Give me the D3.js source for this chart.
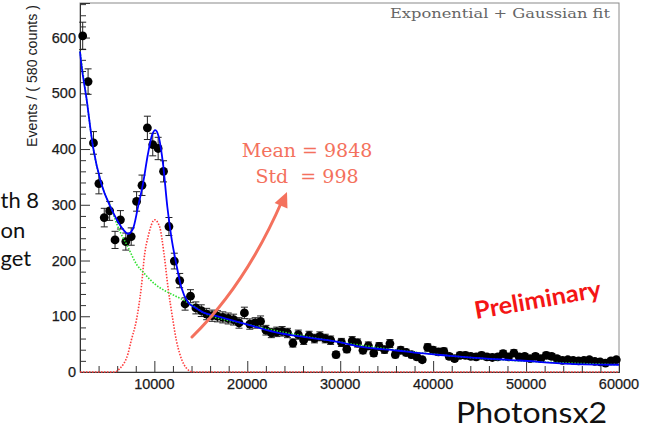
<!DOCTYPE html>
<html>
<head>
<meta charset="utf-8">
<script src="https://cdn.jsdelivr.net/npm/d3@7"></script>
<style>
  html, body { margin: 0; padding: 0; background: #fff; }
  svg { display: block; }
</style>
</head>
<body>
<svg id="chart" width="647" height="430"></svg>
<script>
// ---------- data ----------
const binLow = 2000;          // histogram starts here
const binWidth = 580;         // "580 counts" per bin
const counts = [603,521,411,338,277,289,237,273,234,243,
                306,335,438,408,401,360,261,199,164,122,
                136,115,110,104,101,100,98,96,94,88,
                106,86,88,91,75,70,72,73,70,52,
                67,57,65,60,64,60,57,31,53,41,
                56,52,39,47,34,46,40,51,31,39,
                35,31,27,22,44,39,36,37,28,24,
                30,30,28,27,30,27,26,27,33,27,
                34,27,28,24,28,24,30,28,24,21,
                22,21,20,21,22,19,18,16,20,22];

// total fit (blue)
const fitTotal = [[2000,575],[2140,553],[2680,493],[3400,404],[4290,338],[5370,293],[6450,260],
  [7165,248],[7700,257],[8240,296],[8780,338],[9320,392],[9750,425],[10100,434],[10470,422],
  [10930,374],[11400,296],[11830,242],[12360,194],[12900,152],[13620,125],[14340,116],[15240,107],
  [16527,101],[19755,86.5],[22984,71.5],[26212,62.5],[29440,55],[32485,44.5],[36080,38.6],
  [38587,33.8],[41460,29.6],[44505,25.5],[49347,20.6],[54727,14.7],[60000,13]];
// exponential background (green)
const fitBkg = [[2000,575],[2680,493],[3400,404],[4290,338],[5370,293],[6089,260],[7165,224],
  [8058,194],[8962,176],[10038,158],[11114,146],[12190,137],[13266,128],[14160,119],[15240,107],
  [19755,86.5],[29440,55],[41460,29.6],[60000,13]];
// gaussian signal (red)
const fitSig = [[2000,0],[5734,0],[6272,6],[7165,33],[7520,57],[8058,92],[8596,152],[8962,212],
  [9317,242],[10038,273],[10576,260],[11039,212],[11470,152],[12008,92],[12363,57],[12729,33],
  [13622,4],[14160,0],[60000,0]];

const xMajorTicks = [10000,20000,30000,40000,50000,60000];
const xMinorTicks = [4000,6000,8000,12000,14000,16000,18000,22000,24000,26000,28000,
  32000,34000,36000,38000,42000,44000,46000,48000,52000,54000,56000,58000];
const yMajorTicks = [0,100,200,300,400,500,600];
const yMinorTicks = [20,40,60,80,120,140,160,180,220,240,260,280,320,340,360,380,
  420,440,460,480,520,540,560,580,620,640,660];

const yTitle = "Events / ( 580 counts )";
const fitTitle = "Exponential + Gaussian fit";
const statLines = ["Mean = 9848", "Std  = 998"];
const stamp = "Preliminary";
const xTitle = "Photonsx2";
const sideText = ["th 8", "on", "get"];

// ---------- drawing ----------
const svg = d3.select("#chart");
const L = 80, R = 619, T = 3, B = 372;
const x = d3.scaleLinear().domain([2000, 60000]).range([L, R]);
const y = d3.scaleLinear().domain([0, 662]).range([B, T]);

// frame
svg.append("rect").attr("x", L).attr("y", T).attr("width", R - L).attr("height", B - T)
  .attr("fill", "#fff").attr("stroke", "#8a8a8a").attr("stroke-width", 1);

// axes with inward ticks
const xAxisMajor = d3.axisTop(x).tickValues(xMajorTicks).tickSize(11).tickFormat("");
const xAxisMinor = d3.axisTop(x).tickValues(xMinorTicks).tickSize(6).tickFormat("");
const yAxisMajor = d3.axisRight(y).tickValues(yMajorTicks).tickSize(10).tickFormat("");
const yAxisMinor = d3.axisRight(y).tickValues(yMinorTicks).tickSize(6).tickFormat("");
[xAxisMajor, xAxisMinor].forEach(a => {
  const g = svg.append("g").attr("transform", `translate(0,${B})`).call(a);
  g.select(".domain").attr("stroke", "#333");
  g.selectAll(".tick line").attr("stroke", "#333");
});
[yAxisMajor, yAxisMinor].forEach(a => {
  const g = svg.append("g").attr("transform", `translate(${L},0)`).call(a);
  g.select(".domain").attr("stroke", "#333");
  g.selectAll(".tick line").attr("stroke", "#333");
});

// tick labels
svg.append("g").selectAll("text").data(xMajorTicks).join("text")
  .attr("x", d => x(d)).attr("y", B + 17).attr("text-anchor", "middle")
  .attr("font-family", "Liberation Sans, Arial, sans-serif").attr("font-size", 14.5)
  .attr("fill", "#1a1a1a").attr("stroke", "#1a1a1a").attr("stroke-width", 0.25).text(d => d);
svg.append("g").selectAll("text").data(yMajorTicks).join("text")
  .attr("x", L - 4).attr("y", d => y(d) + 5).attr("text-anchor", "end")
  .attr("font-family", "Liberation Sans, Arial, sans-serif").attr("font-size", 14.5)
  .attr("fill", "#1a1a1a").attr("stroke", "#1a1a1a").attr("stroke-width", 0.25).text(d => d);

// y title
svg.append("text").attr("transform", `translate(37,5) rotate(-90)`)
  .attr("text-anchor", "end").attr("font-family", "Liberation Sans, Arial, sans-serif")
  .attr("font-size", 14).attr("fill", "#222")
  .attr("textLength", 142).attr("lengthAdjust", "spacingAndGlyphs").text(yTitle);

// data points
const pts = counts.map((c, i) => ({ xv: binLow + binWidth * (i + 0.5), c, e: Math.sqrt(c) }));
const gp = svg.append("g");
gp.selectAll("line.err").data(pts).join("line").attr("class", "err")
  .attr("x1", d => x(d.xv)).attr("x2", d => x(d.xv))
  .attr("y1", d => y(d.c + d.e)).attr("y2", d => y(Math.max(0, d.c - d.e)))
  .attr("stroke", "#222").attr("stroke-width", 1);
gp.selectAll("line.capt").data(pts).join("line").attr("class", "capt")
  .attr("x1", d => x(d.xv) - 3.5).attr("x2", d => x(d.xv) + 3.5)
  .attr("y1", d => y(d.c + d.e)).attr("y2", d => y(d.c + d.e))
  .attr("stroke", "#222").attr("stroke-width", 1);
gp.selectAll("line.capb").data(pts).join("line").attr("class", "capb")
  .attr("x1", d => x(d.xv) - 3.5).attr("x2", d => x(d.xv) + 3.5)
  .attr("y1", d => y(Math.max(0, d.c - d.e))).attr("y2", d => y(Math.max(0, d.c - d.e)))
  .attr("stroke", "#222").attr("stroke-width", 1);
gp.selectAll("circle").data(pts).join("circle")
  .attr("cx", d => x(d.xv)).attr("cy", d => y(d.c)).attr("r", 4.4).attr("fill", "#000");

// fit curves
const line = d3.line().x(d => x(d[0])).y(d => y(d[1])).curve(d3.curveMonotoneX);
svg.append("path").datum(fitSig).attr("d", line).attr("fill", "none")
  .attr("stroke", "#ff3b3b").attr("stroke-width", 1.6).attr("stroke-dasharray", "1.5,1.5");
svg.append("path").datum(fitBkg).attr("d", line).attr("fill", "none")
  .attr("stroke", "#2ee02e").attr("stroke-width", 1.6).attr("stroke-dasharray", "1.5,1.5");
svg.append("path").datum(fitTotal).attr("d", line).attr("fill", "none")
  .attr("stroke", "#0000ff").attr("stroke-width", 1.8);

// fit title
svg.append("text").attr("x", 610).attr("y", 18).attr("text-anchor", "end")
  .attr("font-family", "DejaVu Serif, serif").attr("font-size", 13.5)
  .attr("fill", "#666").attr("textLength", 220).attr("lengthAdjust", "spacingAndGlyphs")
  .text(fitTitle);

// stats text
const salmon = "#f4715d";
svg.append("g").selectAll("text").data(statLines).join("text")
  .attr("x", 307).attr("y", (d, i) => 157 + i * 26).attr("text-anchor", "middle")
  .attr("font-family", "DejaVu Serif, serif").attr("font-size", 19)
  .attr("fill", salmon).attr("xml:space", "preserve").style("white-space", "pre").text(d => d);

// arrow
const p0 = [192, 337], p1 = [246, 284], p2 = [282, 201];
svg.append("path").attr("d", `M${p0}Q${p1} ${p2}`).attr("fill", "none")
  .attr("stroke", salmon).attr("stroke-width", 3).attr("stroke-linecap", "round");
{
  const tip = [287, 192];
  const dx = p2[0] - p1[0], dy = p2[1] - p1[1];
  const len = Math.hypot(dx, dy), ux = dx / len, uy = dy / len;
  const hl = 15, hw = 7;
  const bx = tip[0] - ux * hl, by = tip[1] - uy * hl;
  svg.append("path")
    .attr("d", `M${tip}L${bx - uy * hw},${by + ux * hw}L${bx + uy * hw},${by - ux * hw}Z`)
    .attr("fill", salmon);
}

// Preliminary stamp
svg.append("text").attr("transform", "translate(539,308) rotate(-10)")
  .attr("text-anchor", "middle").attr("font-family", "Lato, sans-serif")
  .attr("font-weight", "bold").attr("font-size", 24).attr("fill", "#f41515")
  .attr("textLength", 128).attr("lengthAdjust", "spacingAndGlyphs").text(stamp);

// slide texts (fragments at the left edge)
svg.append("text").attr("x", 607).attr("y", 423).attr("text-anchor", "end")
  .attr("font-family", "Lato, sans-serif").attr("font-size", 29).attr("fill", "#111")
  .attr("textLength", 151).attr("lengthAdjust", "spacingAndGlyphs").text(xTitle);
const sideX = [0.5, 0.5, 0.5];
const sideY = [208, 238, 266];
svg.append("g").selectAll("text").data(sideText).join("text")
  .attr("x", (d, i) => sideX[i]).attr("y", (d, i) => sideY[i]).attr("text-anchor", "start")
  .attr("font-family", "Lato, sans-serif").attr("font-size", 22).attr("fill", "#111")
  .text(d => d);
</script>
</body>
</html>
